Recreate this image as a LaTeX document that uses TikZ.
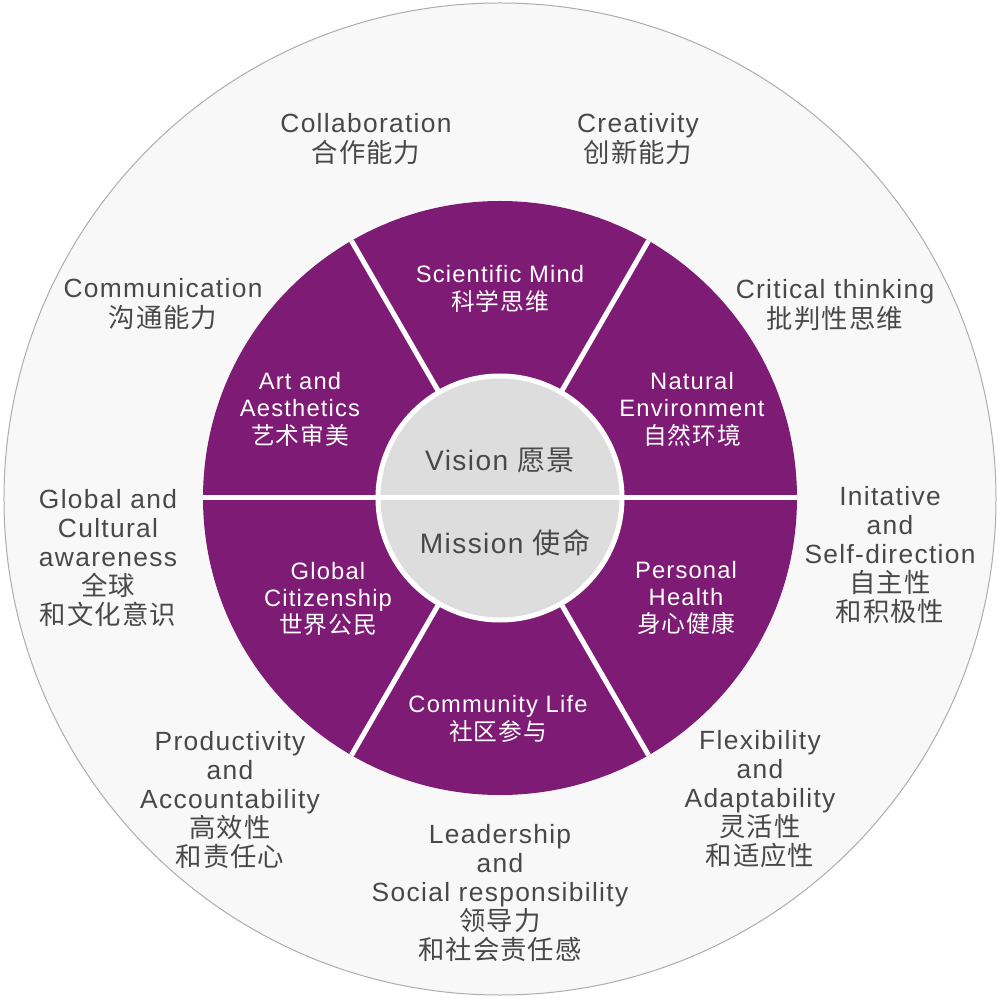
\documentclass[tikz,border=0pt]{standalone}
\usepackage{fontspec}
\setmainfont{Liberation Sans}[LetterSpace=5]
\newfontfamily\cjk{Noto Sans CJK SC}[LetterSpace=4]
\newcommand\zh[1]{{\cjk #1}}
\definecolor{plum}{RGB}{126,27,116}
\definecolor{ink}{RGB}{72,72,72}
\definecolor{hub}{RGB}{221,221,221}
\definecolor{rim}{RGB}{248,248,248}

\begin{document}
\begin{tikzpicture}[
    x=0.2mm, y=0.2mm,
    outer/.style={text=ink, align=center, font=\fontsize{15}{16.6}\selectfont},
    seg/.style={text=white, align=center, font=\fontsize{13.5}{15.6}\selectfont},
    core/.style={text=ink, font=\fontsize{16}{18}\selectfont},
    divider/.style={white, line width=1mm}
  ]
  \useasboundingbox (-500,-502) rectangle (500,498);

  % Background disc and purple ring
  \filldraw[fill=rim, draw=black!32, line width=0.2mm] (0,-1) circle (496);
  \fill[plum] (0,0) circle (297);
  \filldraw[fill=hub, draw=white, line width=1mm] (0,0) circle (122);
  \foreach \a in {60,120,240,300} {
    \draw[divider] (\a:124) -- (\a:297);
  }
  \draw[divider] (-297,0) -- (297,0);

  % Centre
  \node[core] (vision)  at (0,38)  {Vision \zh{愿景}};
  \node[core] (mission) at (5,-45) {Mission \zh{使命}};

  % Ring segments
  \node[seg] (sci)  at (0,209)     {Scientific Mind\\\zh{科学思维}};
  \node[seg] (art)  at (-200,89)   {Art and\\Aesthetics\\\zh{艺术审美}};
  \node[seg] (nat)  at (192,89)    {Natural\\Environment\\\zh{自然环境}};
  \node[seg] (glob) at (-172,-101) {Global\\Citizenship\\\zh{世界公民}};
  \node[seg] (pers) at (186,-100)  {Personal\\Health\\\zh{身心健康}};
  \node[seg] (comm) at (-2,-221)   {Community Life\\\zh{社区参与}};

  % Skills around the ring
  \node[outer] (collab) at (-134,359)  {Collaboration\\\zh{合作能力}};
  \node[outer] (creat)  at (138,359)   {Creativity\\\zh{创新能力}};
  \node[outer] (commun) at (-337,194)  {Communication\\\zh{沟通能力}};
  \node[outer] (crit)   at (335,193)   {Critical thinking\\\zh{批判性思维}};
  \node[outer] (cult)   at (-392,-60)  {Global and\\Cultural\\awareness\\\zh{全球}\\\zh{和文化意识}};
  \node[outer] (init)   at (390,-57)   {Initative\\and\\Self-direction\\\zh{自主性}\\\zh{和积极性}};
  \node[outer] (prod)   at (-270,-302) {Productivity\\and\\Accountability\\\zh{高效性}\\\zh{和责任心}};
  \node[outer] (flex)   at (260,-301)  {Flexibility\\and\\Adaptability\\\zh{灵活性}\\\zh{和适应性}};
  \node[outer] (lead)   at (0,-395)    {Leadership\\and\\Social responsibility\\\zh{领导力}\\\zh{和社会责任感}};
\end{tikzpicture}
\end{document}
